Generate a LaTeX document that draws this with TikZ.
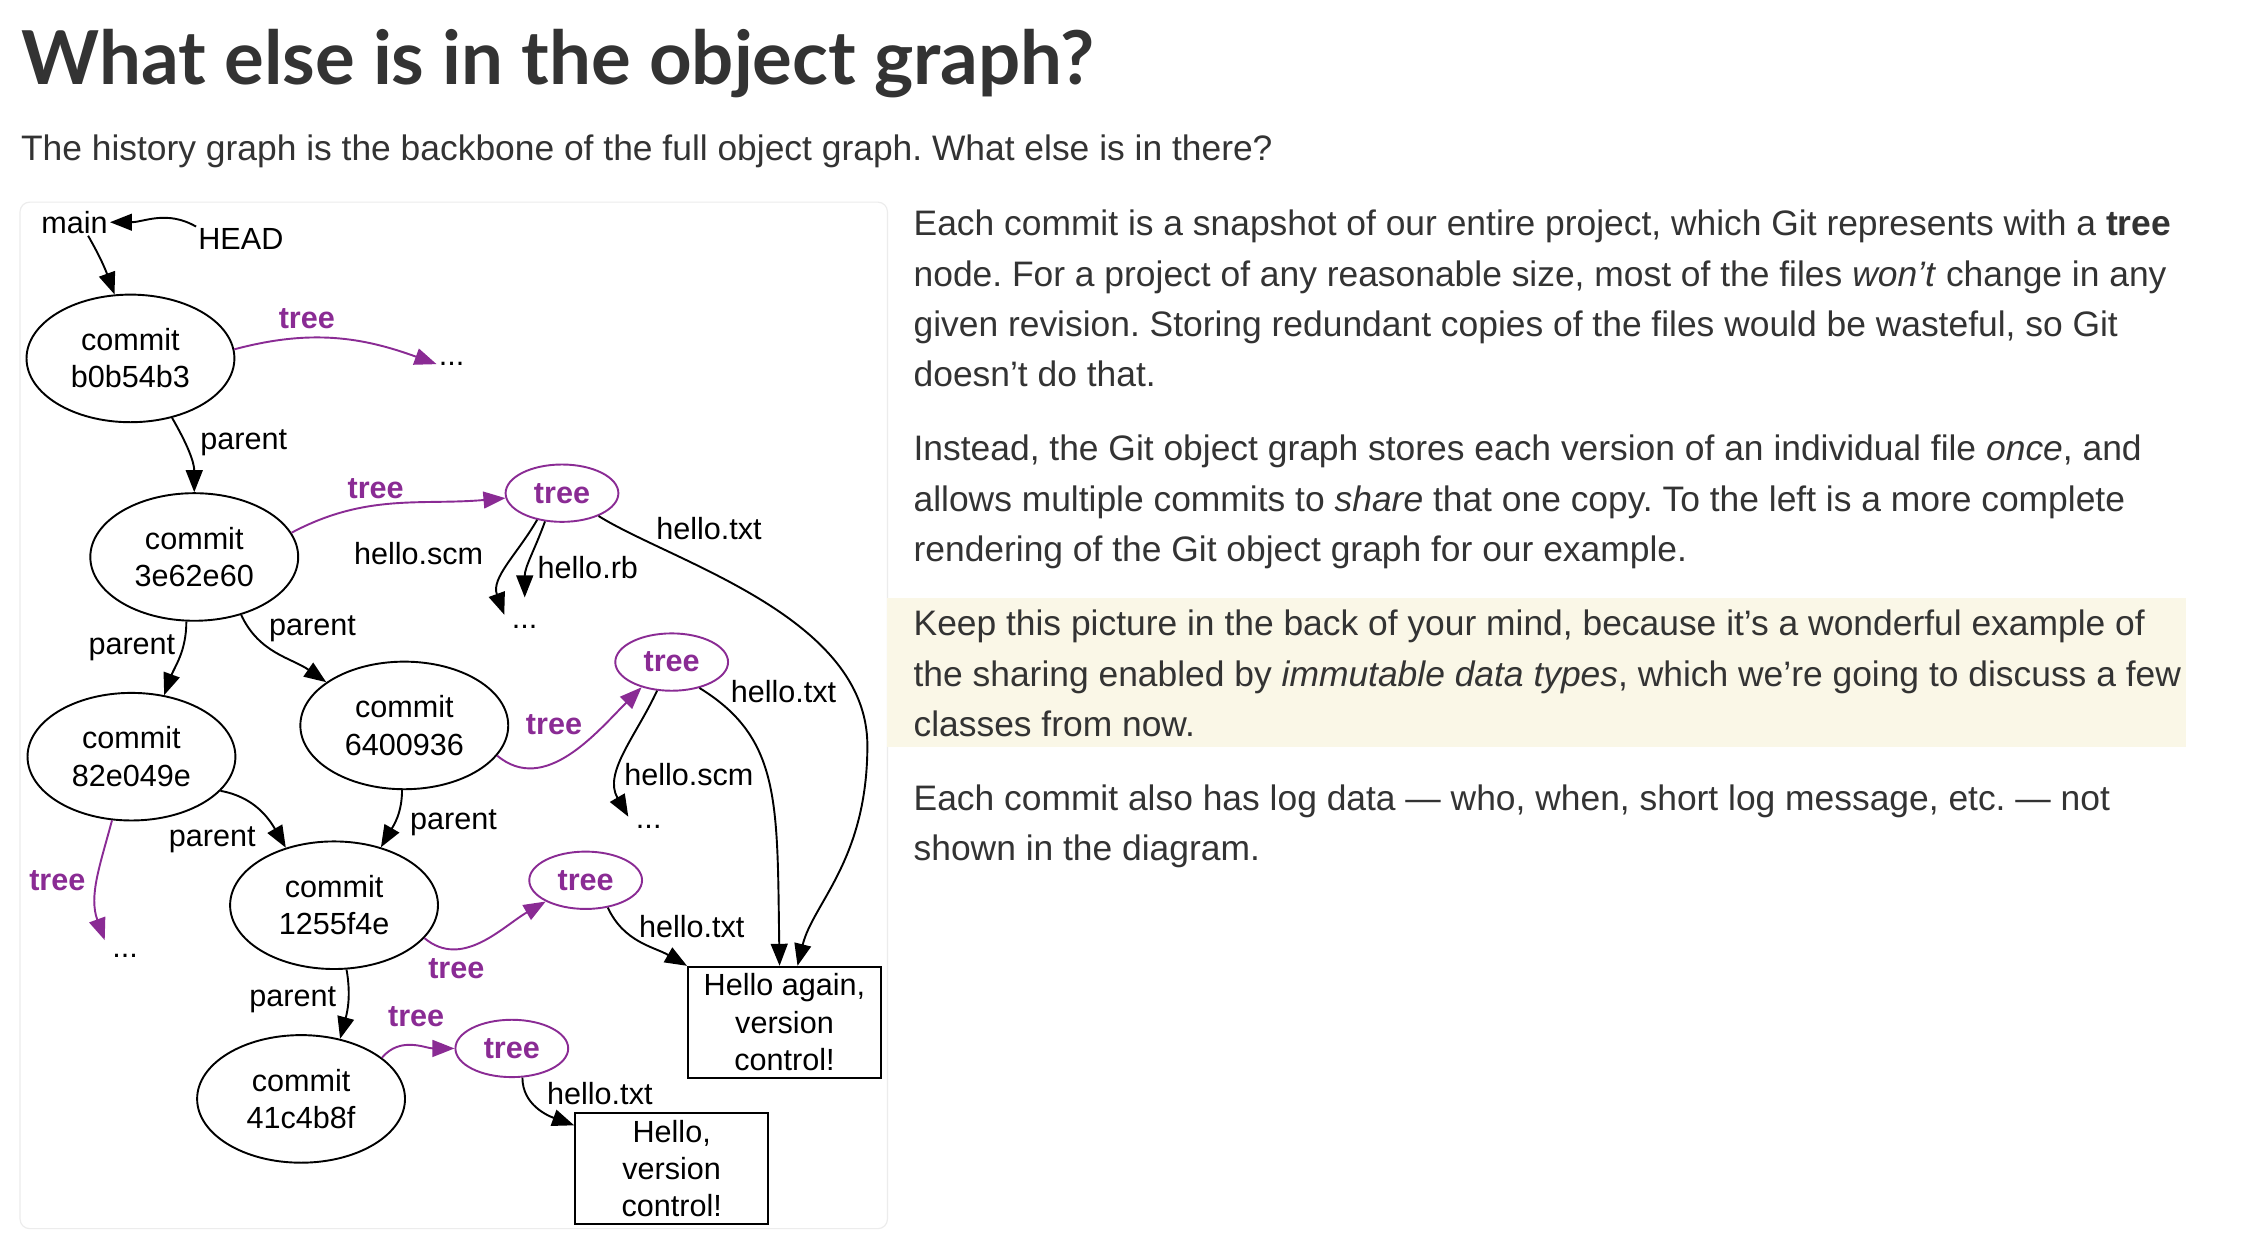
\documentclass[tikz,border=0pt]{standalone}
\usepackage{fontspec}
\setmainfont{Liberation Sans}
\newfontfamily\titlefont{Lato}
\usetikzlibrary{shapes.geometric,arrows.meta}
\definecolor{txt}{RGB}{51,51,51}
\definecolor{hl}{RGB}{250,247,231}
\definecolor{treepurple}{RGB}{138,43,148}
\definecolor{panelgray}{RGB}{236,236,236}
\frenchspacing
\tikzset{
  body/.style={anchor=base west, inner sep=0pt, text=txt, font=\fontsize{18.52}{26}\selectfont},
  lbl/.style={inner sep=1pt, text=black, font=\fontsize{16}{19.5}\selectfont},
  tlbl/.style={inner sep=1pt, text=treepurple, font=\bfseries\fontsize{16}{19.5}\selectfont},
  commitnode/.style={ellipse, draw=black, line width=1pt, minimum width=108.75pt, minimum height=66.75pt, inner sep=0pt, align=center, font=\fontsize{16}{19.5}\selectfont},
  treenode/.style={ellipse, draw=treepurple, text=treepurple, line width=1pt, minimum width=59pt, minimum height=30pt, inner sep=0pt, font=\bfseries\fontsize{16}{19.5}\selectfont},
  blobnode/.style={rectangle, draw=black, line width=1pt, minimum width=101pt, minimum height=58pt, inner sep=0pt, align=center, font=\fontsize{16}{19.5}\selectfont},
  dotsnode/.style={inner sep=0pt, minimum width=21pt, minimum height=30pt, font=\fontsize{16}{19.5}\selectfont},
  arr/.style={-{Triangle[length=11.5pt,width=8.8pt]}, line width=1pt, draw=black},
  parr/.style={-{Triangle[length=11.5pt,width=8.8pt]}, line width=1pt, draw=treepurple, fill=none},
}
\begin{document}
\begin{tikzpicture}[x=0.75pt,y=0.75pt]
\useasboundingbox (0,0) rectangle (1568,-873);
\fill[white] (0,0) rectangle (1568,-873);

% header
\node[anchor=base west, inner sep=0pt, text=txt, font=\titlefont\bfseries\fontsize{38.9}{46}\selectfont] (title) at (15,-58.6) {What else is in the object graph?};
\node[body] (sub) at (14.4,-112) {The history graph is the backbone of the full object graph. What else is in there?};

% panel and highlight
\draw[panelgray, line width=0.6pt, rounded corners=5pt] (14,-141) rectangle (619,-857);
\fill[hl] (619,-417) rectangle (1525,-521);

% right column text
\node[body] (p1) at (637,-164.5) {Each commit is a snapshot of our entire project, which Git represents with a \textbf{tree}};
\node[body] (p2) at (637,-199.5) {node. For a project of any reasonable size, most of the files \textit{won’t} change in any};
\node[body] (p3) at (637,-234.5) {given revision. Storing redundant copies of the files would be wasteful, so Git};
\node[body] (p4) at (637,-269.5) {doesn’t do that.};
\node[body] (p5) at (637,-321.5) {Instead, the Git object graph stores each version of an individual file \textit{once}, and};
\node[body] (p6) at (637,-356.5) {allows multiple commits to \textit{share} that one copy. To the left is a more complete};
\node[body] (p7) at (637,-391.5) {rendering of the Git object graph for our example.};
\node[body] (p8) at (637,-443.5) {Keep this picture in the back of your mind, because it’s a wonderful example of};
\node[body] (p9) at (637,-478.5) {the sharing enabled by \textit{immutable data types}, which we’re going to discuss a few};
\node[body] (p10) at (637,-513.5) {classes from now.};
\node[body] (p11) at (637,-565.5) {Each commit also has log data — who, when, short log message, etc. — not};
\node[body] (p12) at (637,-600.5) {shown in the diagram.};

% diagram nodes
\node[lbl] (main) at (52,-155) {main};
\node[lbl] (head) at (168,-167) {HEAD};
\node[commitnode] (b0) at (91,-250) {commit\\b0b54b3};
\node[commitnode] (c3e) at (135.5,-388.5) {commit\\3e62e60};
\node[commitnode] (c82) at (91.7,-527.8) {commit\\82e049e};
\node[commitnode] (c64) at (282,-506) {commit\\6400936};
\node[commitnode] (c12) at (233,-631.4) {commit\\1255f4e};
\node[commitnode] (c41) at (210,-766.5) {commit\\41c4b8f};
\node[treenode] (t1) at (392,-344) {tree};
\node[treenode] (t2) at (468.5,-461.8) {tree};
\node[treenode] (t3) at (408.5,-614) {tree};
\node[treenode] (t4) at (357,-731.3) {tree};
\node[blobnode] (box1) at (547.2,-713) {Hello again,\\version\\control!};
\node[blobnode] (box2) at (468.5,-815.2) {Hello,\\version\\control!};
\node[lbl] (d0) at (315,-254) {...};
\node[dotsnode] (d1) at (366,-437) {...};
\node[dotsnode] (d2) at (452.5,-576.9) {...};
\node[dotsnode] (d3) at (87.3,-666.9) {...};

% edges
\draw[arr] (head.north west) to[out=150,in=0] (main.east);
\draw[arr] (main.-45) to[out=-60,in=110] (b0.104);
\draw[parr] (b0.5) to[out=15,in=160] (d0.west);
\draw[arr] (b0.-55) to[out=-60,in=90] (c3e.90);
\draw[parr] (c3e.14) to[out=28,in=185] (t1.185);
\draw[arr] (t1.-133) to[out=-120,in=110] (d1.150);
\draw[arr] (t1.-121) to[out=-110,in=90] (d1.north);
\draw[arr] (t1.-32) .. controls (469,-392) and (605,-430) .. (605,-520) .. controls (605,-600) and (567,-630) .. (box1.77);
\draw[arr] (c3e.-97) to[out=-90,in=70] (c82.62);
\draw[arr] (c3e.-51) to[out=-65,in=145] (c64.151);
\draw[parr] (c64.-18) to[out=-40,in=225] (t2.220);
\draw[arr] (t2.-117) to[out=-115,in=120] (d2.153);
\draw[arr] (t2.-43) .. controls (545,-515) and (542,-560) .. (box1.95);
\draw[arr] (c82.-21) to[out=-10,in=120] (c12.130);
\draw[parr] (c82.-107) to[out=-105,in=110] (d3.142);
\draw[arr] (c64.-92) to[out=-90,in=60] (c12.51);
\draw[parr] (c12.-20) to[out=-40,in=210] (t3.208);
\draw[arr] (t3.-51) to[out=-65,in=150] (box1.north west);
\draw[arr] (c12.-79) to[out=-80,in=75] (c41.57);
\draw[parr] (c41.27) to[out=50,in=180] (t4.180);
\draw[arr] (t4.-70) to[out=-90,in=160] (box2.156);

% edge labels
\node[tlbl] (l1) at (214,-222) {tree};
\node[lbl] (l2) at (170,-309) {parent};
\node[tlbl] (l3) at (262,-340.6) {tree};
\node[lbl] (l4) at (292,-386) {hello.scm};
\node[lbl] (l5) at (410,-396) {hello.rb};
\node[lbl] (l6) at (494.5,-368.5) {hello.txt};
\node[lbl] (l7) at (92,-452) {parent};
\node[lbl] (l8) at (218,-438.8) {parent};
\node[tlbl] (l9) at (386.4,-505.7) {tree};
\node[lbl] (l10) at (480.5,-540.5) {hello.scm};
\node[lbl] (l11) at (546.5,-482.4) {hello.txt};
\node[lbl] (l12) at (148,-585.6) {parent};
\node[tlbl] (l13) at (40,-614.6) {tree};
\node[lbl] (l14) at (316.3,-574) {parent};
\node[tlbl] (l15) at (318.3,-675.7) {tree};
\node[lbl] (l16) at (482.5,-646.6) {hello.txt};
\node[lbl] (l17) at (204.2,-697.5) {parent};
\node[tlbl] (l18) at (290.3,-709.1) {tree};
\node[lbl] (l19) at (418.4,-762.9) {hello.txt};
\end{tikzpicture}
\end{document}
